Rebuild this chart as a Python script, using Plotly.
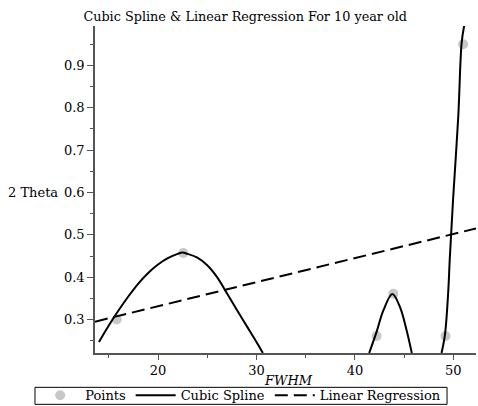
import plotly.graph_objects as go

# Data points (FWHM vs 2 Theta)
point_x = [15.8, 22.57, 42.2, 43.9, 49.2, 51.0]
point_y = [0.300, 0.457, 0.261, 0.361, 0.261, 0.950]

# Cubic spline curve (segments separated by None)
spline_x = [14.0, 15.0, 16.0, 17.0, 18.0, 19.0, 20.0, 21.0, 22.0, 22.5,
            23.0, 24.0, 25.0, 26.0, 27.0, 28.0, 29.0, 30.0, 30.65, None,
            41.45, 42.2, 42.9, 43.8, 44.57, 45.25, 45.78, None,
            48.8, 49.14, 49.47, 49.64, 49.97, 50.5, 50.84, 51.1]
spline_y = [0.247, 0.286, 0.322, 0.355, 0.385, 0.410, 0.430, 0.445, 0.455, 0.458,
            0.455, 0.446, 0.428, 0.400, 0.362, 0.323, 0.285, 0.247, 0.221, None,
            0.221, 0.271, 0.322, 0.360, 0.330, 0.275, 0.221, None,
            0.221, 0.263, 0.362, 0.445, 0.583, 0.780, 0.953, 0.994]

# Linear regression line end points
reg_x = [13.6, 52.3]
reg_y = [0.295, 0.515]

x_ticks = [20, 30, 40, 50]
y_ticks = [0.3, 0.4, 0.5, 0.6, 0.7, 0.8, 0.9]

FONT = "DejaVu Serif"
AXC = "#555555"

fig = go.Figure()
fig.add_trace(go.Scatter(x=point_x, y=point_y, mode="markers", name="Points",
                         marker=dict(color="#c8c8c8", size=10, symbol="circle")))
fig.add_trace(go.Scatter(x=spline_x, y=spline_y, mode="lines", name="Cubic Spline",
                         line=dict(color="black", width=2, shape="spline", smoothing=1.0),
                         connectgaps=False))
fig.add_trace(go.Scatter(x=reg_x, y=reg_y, mode="lines", name="Linear Regression",
                         line=dict(color="black", width=2, dash="13px,6px")))

fig.update_layout(
    width=478, height=406,
    margin=dict(l=95, r=2, t=26, b=53, autoexpand=False),
    paper_bgcolor="white", plot_bgcolor="white",
    font=dict(family=FONT, size=13, color="black"),
    title=dict(text="Cubic Spline & Linear Regression For 10 year old",
               x=0.513, xref="container", xanchor="center",
               y=1 - 17 / 406, yref="container", yanchor="middle",
               font=dict(family=FONT, size=12.8, color="black")),
    showlegend=True,
    legend=dict(orientation="h", xref="paper", yref="paper",
                x=-0.157, xanchor="left", y=-0.0836, yanchor="top",
                borderwidth=0, bgcolor="rgba(0,0,0,0)",
                font=dict(family=FONT, size=13), itemwidth=40,
                tracegroupgap=0),
    shapes=[
        dict(type="rect", xref="paper", yref="paper",
             x0=-0.1575, x1=0.924, y0=-0.157, y1=-0.105,
             line=dict(color="black", width=1), fillcolor="rgba(0,0,0,0)",
             layer="above"),
    ],
    xaxis=dict(range=[13.6, 52.3], tickvals=x_ticks, showgrid=False, zeroline=False,
               showline=True, linecolor=AXC, linewidth=1.5,
               ticks="outside", ticklen=5, tickcolor=AXC, tickwidth=1,
               minor=dict(dtick=5, tick0=15, ticks="outside", ticklen=3, tickcolor=AXC),
               tickfont=dict(family=FONT, size=13)),
    yaxis=dict(range=[0.221, 0.993], tickvals=y_ticks, tickformat=".1f",
               showgrid=False, zeroline=False,
               showline=True, linecolor=AXC, linewidth=1.5,
               ticks="outside", ticklen=6, tickcolor=AXC, tickwidth=1,
               minor=dict(dtick=0.1, tick0=0.25, ticks="outside", ticklen=3, tickcolor=AXC),
               tickfont=dict(family=FONT, size=13)),
    annotations=[
        dict(text="2 Theta", xref="paper", yref="y", x=-0.092, y=0.6,
             xanchor="right", yanchor="middle", showarrow=False,
             font=dict(family=FONT, size=13)),
        dict(text="<i>FWHM</i>", xref="paper", yref="paper", x=0.509, y=-0.084,
             xanchor="center", yanchor="middle", showarrow=False,
             font=dict(family=FONT, size=13)),
    ],
)

fig.write_html("out.html")
